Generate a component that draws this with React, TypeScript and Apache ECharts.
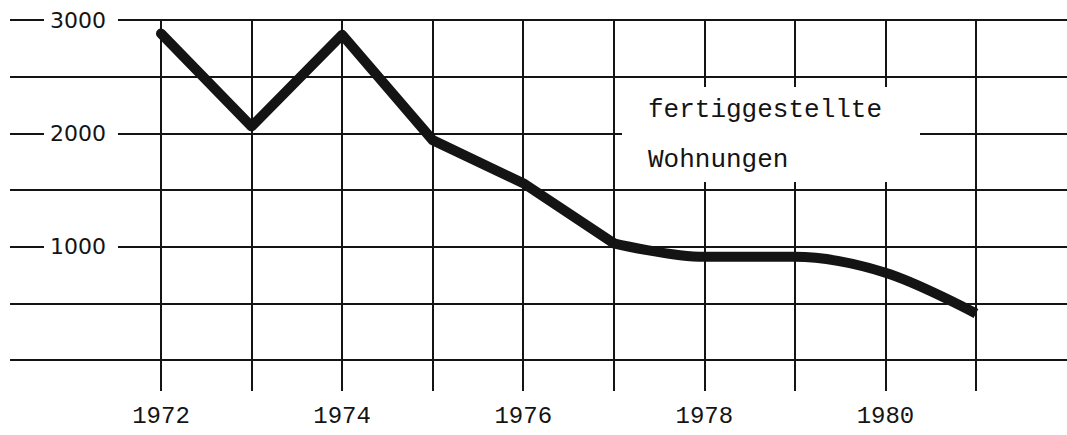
import React, { useEffect, useRef } from "react";
import * as echarts from "echarts";

const years = [1972, 1973, 1974, 1975, 1976, 1977, 1978, 1979, 1980, 1981];
const completedDwellings = [2880, 2060, 2870, 1940, 1560, 1030, 910, 910, 770, 410];
const xTickLabels = ["1972", "1974", "1976", "1978", "1980"];
const yTickLabels = ["1000", "2000", "3000"];
const legendLines = ["fertiggestellte", "Wohnungen"];

const INK = "#141414";

export default function App() {
  const ref = useRef<HTMLDivElement>(null);

  useEffect(() => {
    if (!ref.current) return;
    const chart = echarts.init(ref.current, undefined, { renderer: "svg" });

    const pairs = years.map((y, i) => [y, completedDwellings[i]]);
    const segStraight = pairs.slice(0, 6);
    const segSmooth = pairs.slice(5);

    const mkSeries = (data: number[][], smooth: number | boolean, cap: "butt" | "round") => ({
      type: "line",
      xAxisIndex: 1,
      yAxisIndex: 1,
      data,
      smooth,
      symbol: "none",
      lineStyle: { color: INK, width: 10, join: "round", cap },
      z: 5,
    });

    chart.setOption({
      animation: false,
      backgroundColor: "#fff",
      grid: [
        { left: 10, right: 0, top: 20, bottom: 75 },
        { left: 161, right: 91, top: 20, bottom: 44 },
      ],
      xAxis: [
        { gridIndex: 0, type: "value", show: false, min: 0, max: 1 },
        {
          gridIndex: 1,
          type: "value",
          min: years[0],
          max: years[years.length - 1],
          interval: 1,
          axisLine: { show: false },
          axisTick: { show: false },
          splitLine: { show: true, lineStyle: { color: INK, width: 2 } },
          axisLabel: {
            margin: 13,
            color: INK,
            fontFamily: "Liberation Mono",
            fontSize: 24,
            formatter: (v: number) => (xTickLabels.includes(String(v)) ? String(v) : ""),
          },
        },
      ],
      yAxis: [
        {
          gridIndex: 0,
          type: "value",
          min: 0,
          max: 3000,
          interval: 500,
          axisLine: { show: false },
          axisTick: { show: false },
          splitLine: { show: true, lineStyle: { color: INK, width: 2 } },
          axisLabel: {
            inside: true,
            margin: 34,
            formatter: (v: number) => (yTickLabels.includes(String(v)) ? "{b|" + v + "}" : ""),
            rich: {
              b: {
                color: INK,
                fontFamily: "DejaVu Sans",
                fontSize: 22,
                backgroundColor: "#fff",
                padding: [2, 12, 2, 6],
              },
            },
          },
          z: 3,
        },
        {
          gridIndex: 1,
          type: "value",
          min: -(31 * 3000) / 340,
          max: 3000,
          show: false,
          splitLine: { show: false },
        },
      ],
      series: [mkSeries(segStraight, false, "round"), mkSeries(segSmooth, 0.35, "butt")],
      graphic: [
        {
          type: "rect",
          z: 20,
          shape: { x: 622, y: 87, width: 298, height: 95 },
          style: { fill: "#fff" },
        },
        {
          type: "text",
          z: 21,
          x: 648,
          y: 110,
          style: {
            text: legendLines[0],
            font: "26px 'Liberation Mono'",
            fill: INK,
            verticalAlign: "middle",
          },
        },
        {
          type: "text",
          z: 21,
          x: 648,
          y: 160,
          style: {
            text: legendLines[1],
            font: "26px 'Liberation Mono'",
            fill: INK,
            verticalAlign: "middle",
          },
        },
      ],
    });

    return () => chart.dispose();
  }, []);

  return (
    <div
      ref={ref}
      style={{ position: "fixed", left: 0, top: 0, width: 1067, height: 435, background: "#fff" }}
    />
  );
}
